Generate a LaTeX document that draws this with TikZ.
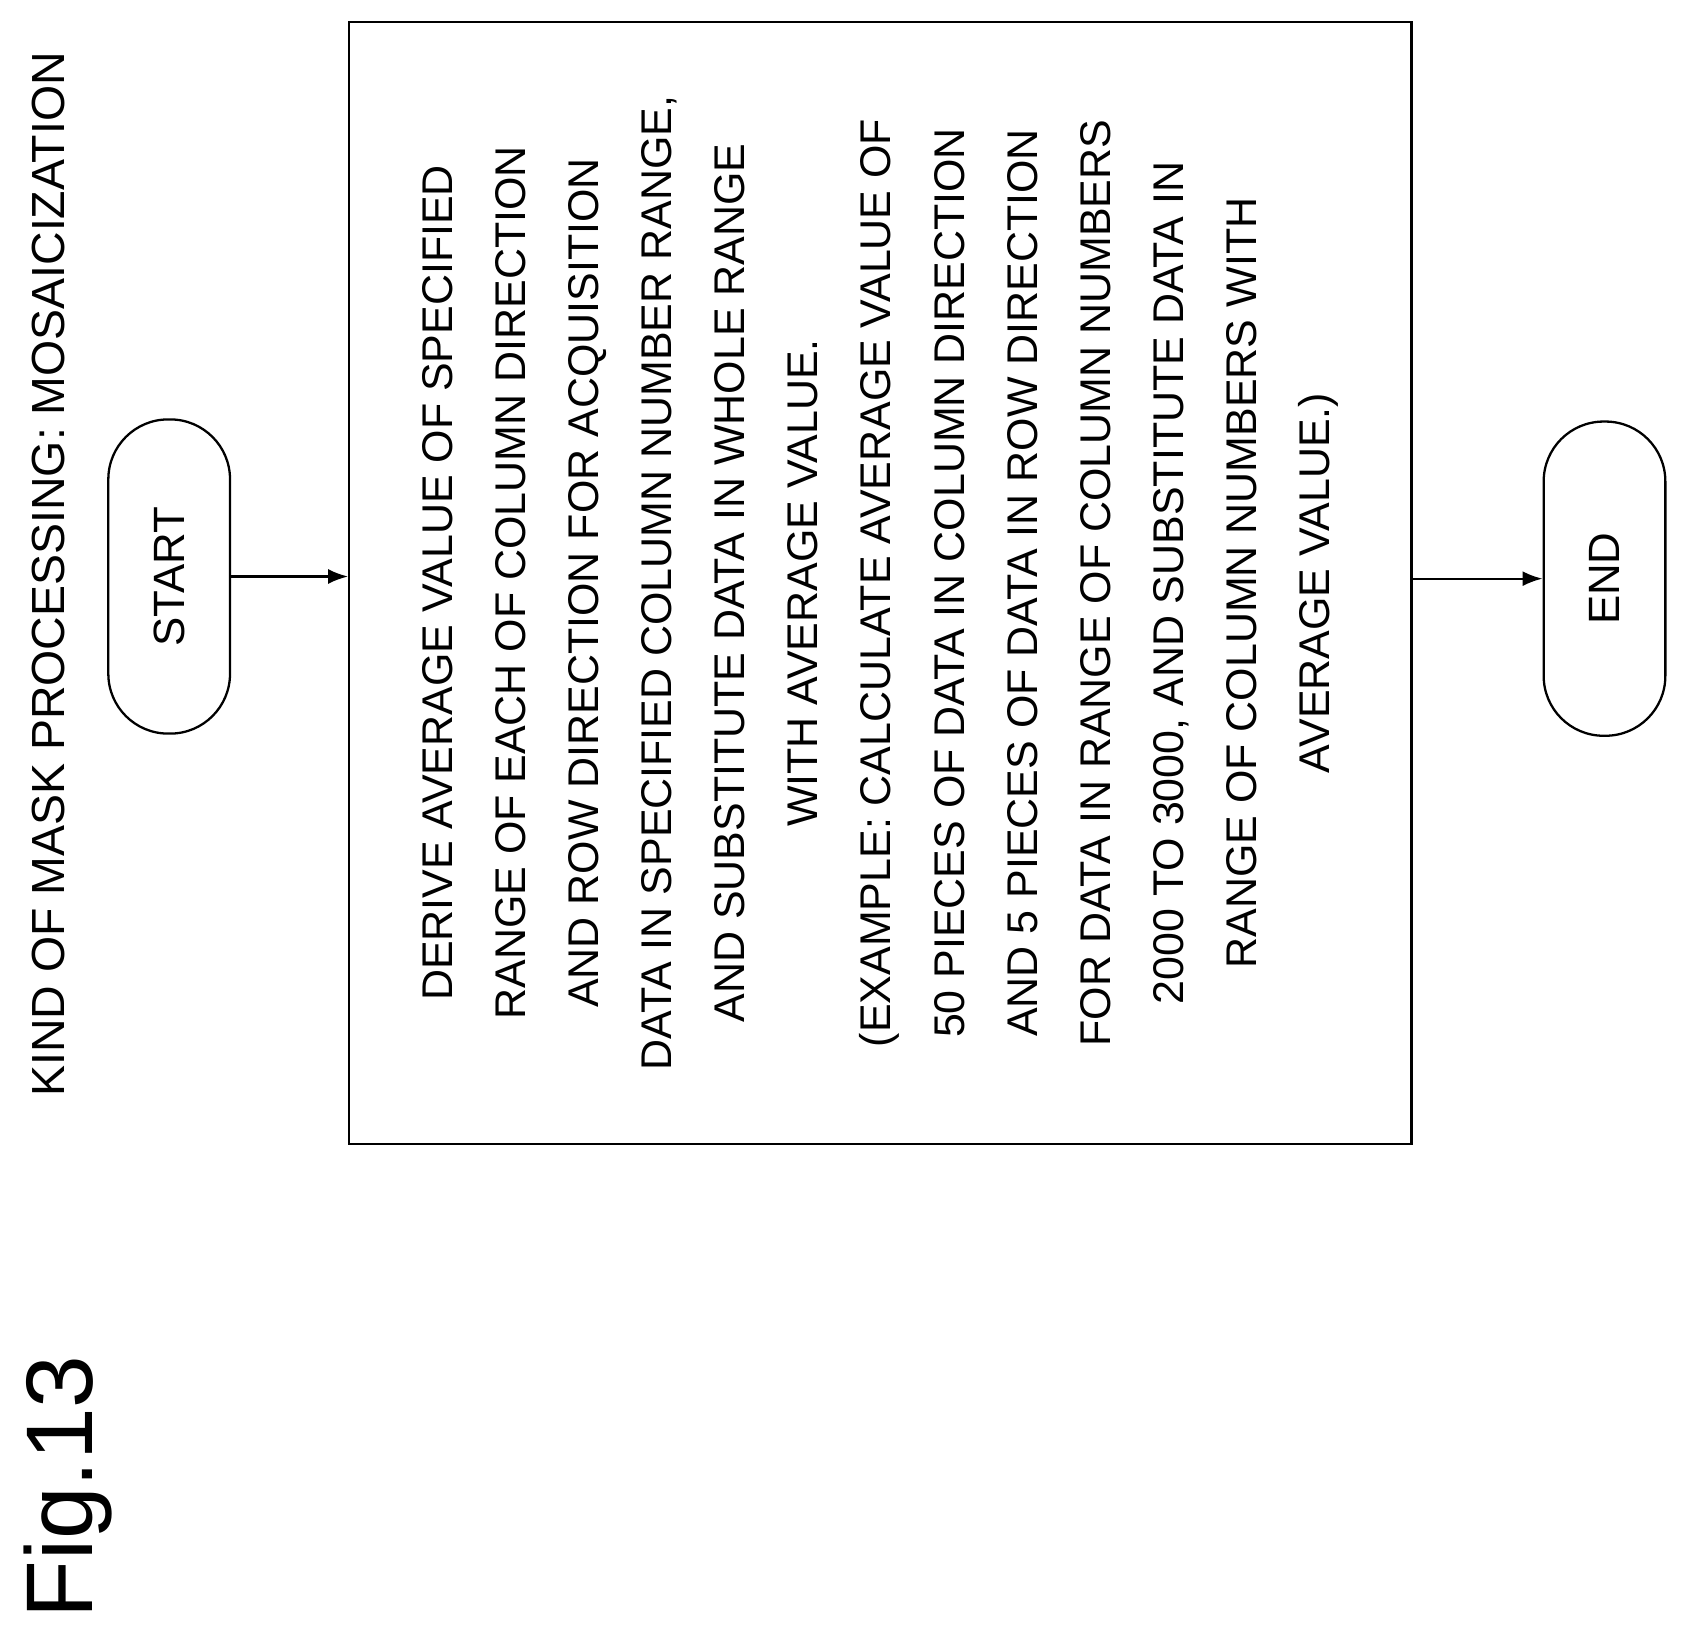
\documentclass[tikz,border=0pt]{standalone}
\usepackage{fontspec}
\setmainfont{Liberation Sans}
\usetikzlibrary{arrows.meta}

\begin{document}
\begin{tikzpicture}[
    x=0.0216cm, y=-0.0216cm,  % pixel-like units
    >={Latex[length=4mm,width=3mm]},
    line width=1.3pt,
    terminal/.style={draw, rounded corners=1.2cm, rotate=90, minimum width=6.3cm, minimum height=2.44cm, font=\fontsize{25}{30}\selectfont},
    process/.style={draw, rotate=90, minimum width=22.5cm, minimum height=21.3cm, align=center, font=\fontsize{24.5}{41.7}\selectfont}
  ]
  \useasboundingbox (0,0) rectangle (1560,1509);

  % --- TITULOS ---
  \node[rotate=90, font=\fontsize{26.5}{30}\selectfont] (title) at (45,533) {KIND OF MASK PROCESSING: MOSAICIZATION};
  \node[rotate=90, font=\fontsize{54}{60}\selectfont] (fig) at (63,1380) {Fig.13};

  % --- CAIXAS ---
  \node[terminal] (start) at (157,535) {START};
  \node[process] (derive) at (817,541) {DERIVE AVERAGE VALUE OF SPECIFIED\\
    RANGE OF EACH OF COLUMN DIRECTION\\
    AND ROW DIRECTION FOR ACQUISITION\\
    DATA IN SPECIFIED COLUMN NUMBER RANGE,\\
    AND SUBSTITUTE DATA IN WHOLE RANGE\\
    WITH AVERAGE VALUE.\\
    (EXAMPLE: CALCULATE AVERAGE VALUE OF\\
    50 PIECES OF DATA IN COLUMN DIRECTION\\
    AND 5 PIECES OF DATA IN ROW DIRECTION\\
    FOR DATA IN RANGE OF COLUMN NUMBERS\\
    2000 TO 3000, AND SUBSTITUTE DATA IN\\
    RANGE OF COLUMN NUMBERS WITH\\
    AVERAGE VALUE.)};
  \node[terminal] (end) at (1489,537) {END};

  % --- SETAS ---
  \draw[->] (start) -- (derive.north |- start);
  \draw[->] (derive.south |- end) -- (end);

\end{tikzpicture}
\end{document}
